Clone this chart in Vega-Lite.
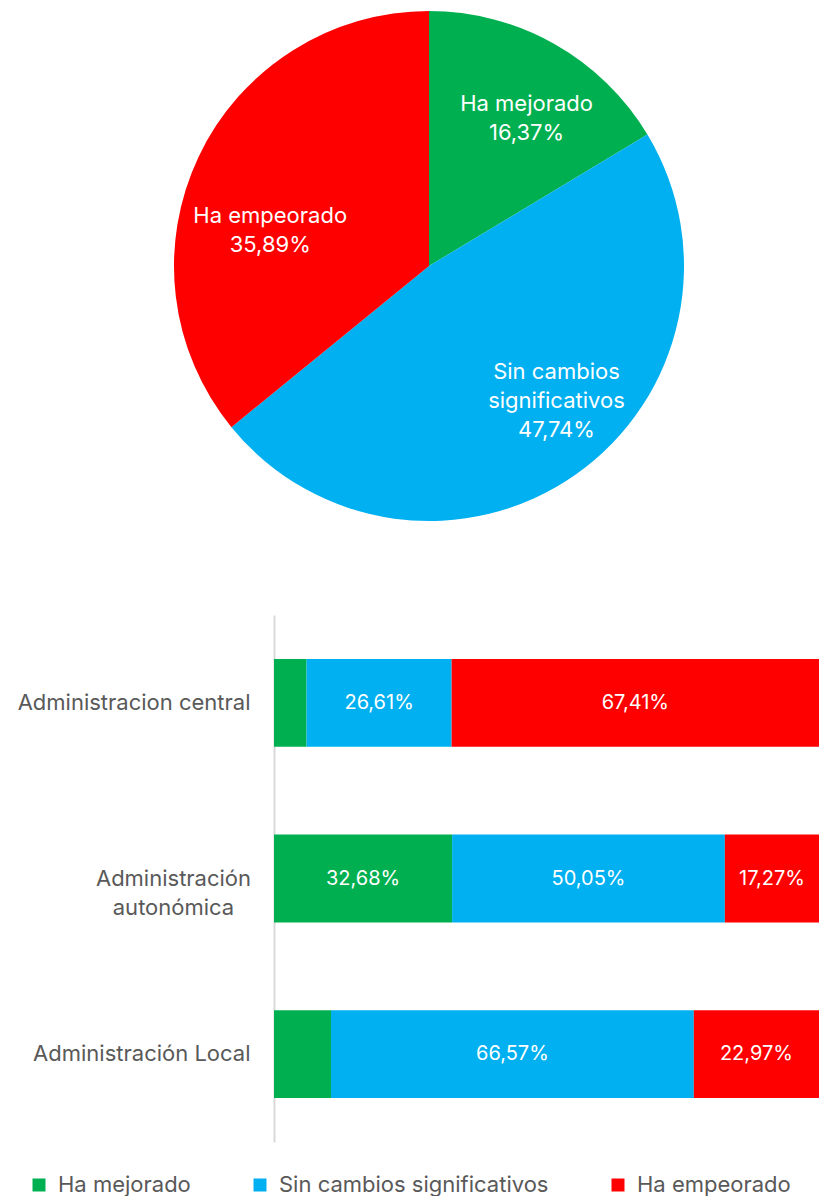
{
  "$schema": "https://vega.github.io/schema/vega-lite/v6.json",
  "bounds": "flush",
  "spacing": 83,
  "padding": {"left": 17, "top": 0, "right": 0, "bottom": 0},
  "config": {"view": {"stroke": null}, "font": "Inter"},
  "datasets": {
    "pie": [
      {"cat": "Ha mejorado", "value": 16.37, "order": 1},
      {"cat": "Sin cambios significativos", "value": 47.74, "order": 2},
      {"cat": "Ha empeorado", "value": 35.89, "order": 3}
    ],
    "bars": [
      {"admin": "Administracion central", "cat": "Ha mejorado", "value": 5.98, "order": 1},
      {"admin": "Administracion central", "cat": "Sin cambios significativos", "value": 26.61, "order": 2},
      {"admin": "Administracion central", "cat": "Ha empeorado", "value": 67.41, "order": 3},
      {"admin": "Administración autonómica", "cat": "Ha mejorado", "value": 32.68, "order": 1},
      {"admin": "Administración autonómica", "cat": "Sin cambios significativos", "value": 50.05, "order": 2},
      {"admin": "Administración autonómica", "cat": "Ha empeorado", "value": 17.27, "order": 3},
      {"admin": "Administración Local", "cat": "Ha mejorado", "value": 10.46, "order": 1},
      {"admin": "Administración Local", "cat": "Sin cambios significativos", "value": 66.57, "order": 2},
      {"admin": "Administración Local", "cat": "Ha empeorado", "value": 22.97, "order": 3}
    ]
  },
  "vconcat": [
    {
      "width": 310,
      "height": 532,
      "data": {"name": "pie"},
      "transform": [
        {"stack": "value", "groupby": [], "sort": [{"field": "order", "order": "ascending"}], "as": ["v0", "v1"]},
        {"calculate": "(datum.v0 + datum.v1) / 2", "as": "mid"},
        {"calculate": "datum.cat == 'Sin cambios significativos' ? ['Sin cambios', 'significativos', replace(format(datum.value, '.2f'), '.', ',') + '%'] : [datum.cat, replace(format(datum.value, '.2f'), '.', ',') + '%']", "as": "lines"}
      ],
      "layer": [
        {
          "mark": {"type": "arc", "outerRadius": 255},
          "encoding": {
            "theta": {"field": "v0", "type": "quantitative", "scale": {"domain": [0, 100]}},
            "theta2": {"field": "v1"},
            "color": {
              "field": "cat", "type": "nominal",
              "scale": {"domain": ["Ha mejorado", "Sin cambios significativos", "Ha empeorado"], "range": ["#00B050", "#00B0F0", "#FF0000"]},
              "legend": {"orient": "none", "legendX": -246, "legendY": 1174, "direction": "horizontal", "title": null, "symbolType": "square", "symbolSize": 169, "symbolStrokeWidth": 0, "labelFontSize": 22, "labelColor": "#595959", "labelOffset": 8, "labelLimit": 400, "columnPadding": 58, "padding": 0}
            }
          }
        },
        {
          "transform": [{"filter": "datum.cat == 'Ha mejorado'"}],
          "mark": {"type": "text", "radius": 178, "fontSize": 22, "fill": "white", "lineHeight": 29, "baseline": "middle", "align": "center", "dx": 10, "dy": -7},
          "encoding": {
            "theta": {"field": "mid", "type": "quantitative", "scale": {"domain": [0, 100]}},
            "text": {"field": "lines"}
          }
        },
        {
          "transform": [{"filter": "datum.cat == 'Sin cambios significativos'"}],
          "mark": {"type": "text", "radius": 178, "fontSize": 22, "fill": "white", "lineHeight": 29, "baseline": "middle", "align": "center", "dx": 25, "dy": -40},
          "encoding": {
            "theta": {"field": "mid", "type": "quantitative", "scale": {"domain": [0, 100]}},
            "text": {"field": "lines"}
          }
        },
        {
          "transform": [{"filter": "datum.cat == 'Ha empeorado'"}],
          "mark": {"type": "text", "radius": 178, "fontSize": 22, "fill": "white", "lineHeight": 29, "baseline": "middle", "align": "center", "dx": 2, "dy": 26},
          "encoding": {
            "theta": {"field": "mid", "type": "quantitative", "scale": {"domain": [0, 100]}},
            "text": {"field": "lines"}
          }
        }
      ]
    },
    {
      "width": 545,
      "height": 527,
      "data": {"name": "bars"},
      "transform": [
        {"stack": "value", "groupby": ["admin"], "sort": [{"field": "order", "order": "ascending"}], "as": ["v0", "v1"]}
      ],
      "encoding": {
        "y": {
          "field": "admin", "type": "nominal",
          "sort": ["Administracion central", "Administración autonómica", "Administración Local"],
          "scale": {"paddingInner": 0.5, "paddingOuter": 0.25},
          "axis": {
            "title": null, "ticks": false, "grid": false,
            "domainColor": "#d9d9d9", "domainWidth": 2,
            "labelFontSize": 22, "labelColor": "#595959",
            "labelAlign": {"condition": {"test": "datum.value == 'Administración autonómica'", "value": "center"}, "value": "right"},
            "labelPadding": {"condition": {"test": "datum.value == 'Administración autonómica'", "value": 101}, "value": 24},
            "labelLineHeight": 29, "labelLimit": 400,
            "labelExpr": "datum.value == 'Administración autonómica' ? ['Administración', 'autonómica'] : datum.value"
          }
        }
      },
      "layer": [
        {
          "mark": {"type": "bar"},
          "encoding": {
            "x": {"field": "v0", "type": "quantitative", "scale": {"domain": [0, 100], "nice": false}, "axis": null},
            "x2": {"field": "v1"},
            "color": {
              "field": "cat", "type": "nominal",
              "scale": {"domain": ["Ha mejorado", "Sin cambios significativos", "Ha empeorado"], "range": ["#00B050", "#00B0F0", "#FF0000"]},
              "legend": {"orient": "none", "legendX": -246, "legendY": 1174, "direction": "horizontal", "title": null, "symbolType": "square", "symbolSize": 169, "symbolStrokeWidth": 0, "labelFontSize": 22, "labelColor": "#595959", "labelOffset": 8, "labelLimit": 400, "columnPadding": 58, "padding": 0}
            }
          }
        },
        {
          "transform": [
            {"filter": "datum.value > 12"},
            {"calculate": "(datum.v0 + datum.v1) / 2", "as": "mid"},
            {"calculate": "replace(format(datum.value, '.2f'), '.', ',') + '%'", "as": "label"}
          ],
          "mark": {"type": "text", "fill": "white", "fontSize": 20, "align": "center", "baseline": "middle"},
          "encoding": {
            "x": {"field": "mid", "type": "quantitative"},
            "text": {"field": "label"}
          }
        }
      ]
    }
  ]
}
